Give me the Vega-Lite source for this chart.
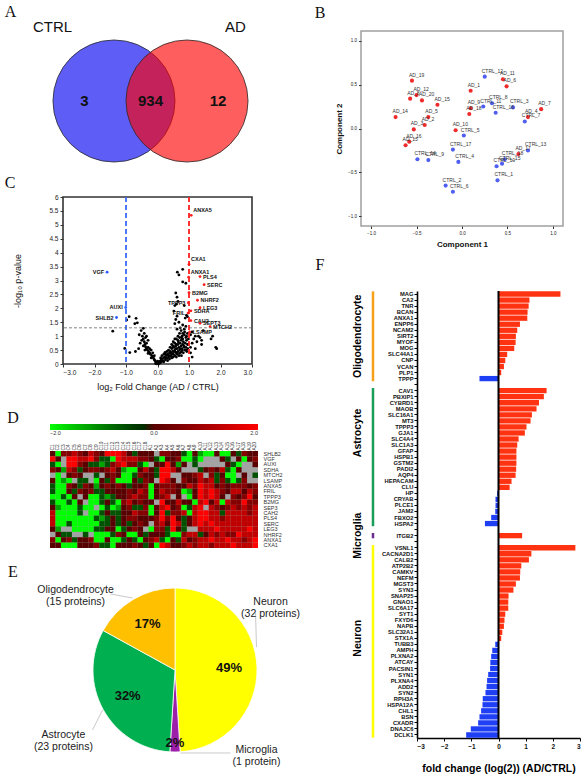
{
"$schema": "https://vega.github.io/schema/vega-lite/v6.json",
"background": "white",
"padding": 0,
"config": {
  "view": {"stroke": null},
  "font": "Liberation Sans",
  "axis": {"grid": false, "labelOverlap": false, "labelFont": "Liberation Sans", "titleFont": "Liberation Sans", "labelColor": "#222", "titleColor": "#111", "tickColor": "#333", "domainColor": "#333"}
},
"datasets": {
  "volcano": [
    {"gene":"ANXA5","lfc":1.07,"p":5.34},{"gene":"CXA1","lfc":1.0,"p":3.58},{"gene":"ANXA1","lfc":0.99,"p":3.12},
    {"gene":"PLS4","lfc":1.35,"p":3.14},{"gene":"SERC","lfc":1.48,"p":2.85},{"gene":"B2MG","lfc":1.0,"p":2.56},
    {"gene":"NHRF2","lfc":1.27,"p":2.29},{"gene":"LEG3","lfc":1.35,"p":2.02},{"gene":"TPPP3","lfc":0.98,"p":2.2},
    {"gene":"SDHA","lfc":1.06,"p":1.91},{"gene":"FRIL","lfc":0.97,"p":1.83},{"gene":"CAH2","lfc":1.06,"p":1.56},
    {"gene":"SEPT3","lfc":1.35,"p":1.46},{"gene":"MTCH2","lfc":1.67,"p":1.34},{"gene":"LSAMP","lfc":1.02,"p":1.15},
    {"gene":"VGF","lfc":-1.6,"p":3.3},{"gene":"AUXI","lfc":-1.01,"p":2.03},{"gene":"SHLB2","lfc":-1.3,"p":1.67},
    {"lfc":0.0,"p":0.02},{"lfc":0.02,"p":0.05},{"lfc":-0.02,"p":0.04},{"lfc":0.05,"p":0.08},{"lfc":-0.05,"p":0.07},
    {"lfc":0.08,"p":0.1},{"lfc":-0.08,"p":0.12},{"lfc":0.1,"p":0.05},{"lfc":-0.1,"p":0.15},{"lfc":0.12,"p":0.18},
    {"lfc":0.0,"p":0.1},{"lfc":0.03,"p":0.0},{"lfc":-0.03,"p":0.01},{"lfc":0.06,"p":0.03},{"lfc":-0.06,"p":0.02},
    {"lfc":0.15,"p":0.12},{"lfc":0.18,"p":0.2},{"lfc":-0.12,"p":0.2},{"lfc":-0.15,"p":0.25},{"lfc":0.2,"p":0.08},
    {"lfc":0.22,"p":0.25},{"lfc":0.25,"p":0.15},{"lfc":0.28,"p":0.3},{"lfc":0.3,"p":0.2},{"lfc":-0.18,"p":0.3},
    {"lfc":-0.2,"p":0.22},{"lfc":-0.22,"p":0.35},{"lfc":-0.25,"p":0.4},{"lfc":-0.28,"p":0.45},{"lfc":-0.3,"p":0.38},
    {"lfc":-0.32,"p":0.5},{"lfc":-0.35,"p":0.55},{"lfc":-0.38,"p":0.62},{"lfc":-0.4,"p":0.7},{"lfc":-0.42,"p":0.8},
    {"lfc":-0.45,"p":0.9},{"lfc":-0.4,"p":0.5},{"lfc":-0.35,"p":0.75},{"lfc":-0.3,"p":0.6},{"lfc":-0.25,"p":0.55},
    {"lfc":-0.45,"p":0.65},{"lfc":-0.5,"p":0.85},{"lfc":-0.48,"p":1.0},{"lfc":-0.42,"p":1.1},{"lfc":-0.45,"p":1.28},
    {"lfc":-0.38,"p":0.95},{"lfc":-0.55,"p":0.75},{"lfc":-0.6,"p":0.55},{"lfc":-0.7,"p":0.45},{"lfc":-0.88,"p":0.41},
    {"lfc":-1.04,"p":0.56},{"lfc":-0.9,"p":1.7},{"lfc":-0.68,"p":1.64},{"lfc":-0.64,"p":1.48},{"lfc":-0.72,"p":1.45},
    {"lfc":-1.42,"p":1.18},{"lfc":-0.58,"p":1.05},{"lfc":-0.52,"p":1.2},{"lfc":-0.35,"p":1.0},{"lfc":-0.3,"p":0.85},
    {"lfc":-0.2,"p":0.5},{"lfc":-0.15,"p":0.4},{"lfc":-0.1,"p":0.3},{"lfc":-0.98,"p":1.58},
    {"lfc":0.1,"p":0.22},{"lfc":0.14,"p":0.3},{"lfc":0.17,"p":0.1},{"lfc":0.2,"p":0.35},{"lfc":0.24,"p":0.42},
    {"lfc":0.26,"p":0.22},{"lfc":0.32,"p":0.12},{"lfc":0.35,"p":0.32},{"lfc":0.38,"p":0.18},{"lfc":0.4,"p":0.28},
    {"lfc":0.42,"p":0.4},{"lfc":0.45,"p":0.22},{"lfc":0.46,"p":0.35},{"lfc":0.5,"p":0.25},{"lfc":0.52,"p":0.45},
    {"lfc":0.55,"p":0.3},{"lfc":0.58,"p":0.42},{"lfc":0.6,"p":0.25},{"lfc":0.62,"p":0.35},{"lfc":0.65,"p":0.45},
    {"lfc":0.68,"p":0.3},{"lfc":0.7,"p":0.38},{"lfc":0.72,"p":0.55},{"lfc":0.74,"p":0.42},{"lfc":0.76,"p":0.3},
    {"lfc":0.78,"p":0.48},{"lfc":0.82,"p":0.4},{"lfc":0.84,"p":0.65},{"lfc":0.86,"p":0.5},{"lfc":0.9,"p":0.6},
    {"lfc":0.93,"p":0.45},{"lfc":0.96,"p":0.55},{"lfc":0.98,"p":0.7},{"lfc":0.92,"p":1.0},{"lfc":0.86,"p":1.15},
    {"lfc":0.76,"p":0.95},{"lfc":0.66,"p":0.8},{"lfc":0.58,"p":0.55},{"lfc":0.48,"p":0.6},
    {"lfc":0.3,"p":0.45},{"lfc":0.32,"p":0.35},{"lfc":0.35,"p":0.5},{"lfc":0.38,"p":0.4},{"lfc":0.4,"p":0.6},
    {"lfc":0.42,"p":0.3},{"lfc":0.45,"p":0.55},{"lfc":0.45,"p":0.7},{"lfc":0.48,"p":0.45},{"lfc":0.5,"p":0.8},
    {"lfc":0.5,"p":0.35},{"lfc":0.52,"p":0.6},{"lfc":0.55,"p":0.5},{"lfc":0.55,"p":0.75},{"lfc":0.58,"p":0.65},
    {"lfc":0.6,"p":0.9},{"lfc":0.6,"p":0.4},{"lfc":0.62,"p":0.55},{"lfc":0.65,"p":0.7},{"lfc":0.65,"p":0.85},
    {"lfc":0.68,"p":0.6},{"lfc":0.7,"p":0.95},{"lfc":0.7,"p":0.5},{"lfc":0.72,"p":0.75},{"lfc":0.75,"p":0.65},
    {"lfc":0.75,"p":0.85},{"lfc":0.78,"p":1.0},{"lfc":0.78,"p":0.55},{"lfc":0.8,"p":0.7},{"lfc":0.8,"p":0.9},
    {"lfc":0.82,"p":0.8},{"lfc":0.85,"p":1.05},{"lfc":0.85,"p":0.6},{"lfc":0.88,"p":0.75},{"lfc":0.9,"p":0.95},
    {"lfc":0.9,"p":0.5},{"lfc":0.92,"p":0.85},{"lfc":0.95,"p":1.1},{"lfc":0.95,"p":0.7},{"lfc":0.98,"p":0.9},
    {"lfc":0.35,"p":0.25},{"lfc":0.25,"p":0.35},{"lfc":0.4,"p":0.45},{"lfc":0.5,"p":0.65},{"lfc":0.6,"p":0.7},
    {"lfc":0.55,"p":0.9},{"lfc":0.65,"p":1.0},{"lfc":0.7,"p":1.1},{"lfc":0.75,"p":1.2},{"lfc":0.8,"p":1.1},
    {"lfc":0.72,"p":1.3},{"lfc":0.62,"p":1.25},{"lfc":0.68,"p":1.5},{"lfc":0.58,"p":1.6},{"lfc":0.55,"p":1.45},
    {"lfc":0.62,"p":1.72},{"lfc":0.52,"p":1.9},{"lfc":0.55,"p":2.1},{"lfc":0.6,"p":2.15},{"lfc":0.62,"p":2.4},
    {"lfc":0.58,"p":2.55},{"lfc":0.65,"p":2.25},{"lfc":0.63,"p":3.3},{"lfc":0.68,"p":3.2},{"lfc":0.8,"p":2.95},
    {"lfc":0.9,"p":2.9},{"lfc":0.8,"p":3.4},{"lfc":0.85,"p":2.1},{"lfc":0.92,"p":1.75},{"lfc":0.88,"p":1.65},
    {"lfc":0.95,"p":1.7},{"lfc":0.8,"p":1.4},{"lfc":0.9,"p":1.35},{"lfc":0.85,"p":1.25},
    {"lfc":1.05,"p":0.6},{"lfc":1.05,"p":0.4},{"lfc":1.1,"p":0.75},{"lfc":1.15,"p":0.9},{"lfc":1.2,"p":1.0},
    {"lfc":1.25,"p":0.8},{"lfc":1.3,"p":1.0},{"lfc":1.35,"p":0.95},{"lfc":1.4,"p":0.85},{"lfc":1.05,"p":1.05},
    {"lfc":1.1,"p":0.25},{"lfc":1.2,"p":0.55},{"lfc":1.7,"p":0.9},{"lfc":1.75,"p":1.0},{"lfc":1.85,"p":0.6},
    {"lfc":1.88,"p":0.55},{"lfc":1.4,"p":0.7},{"lfc":1.1,"p":1.15},{"lfc":1.45,"p":1.2}
  ],
  "pca": [
    {"id":"AD_19","g":"AD","c1":-0.55,"c2":0.545},{"id":"AD_8","g":"AD","c1":-0.57,"c2":0.34},
    {"id":"AD_12","g":"AD","c1":-0.5,"c2":0.38},{"id":"AD_20","g":"AD","c1":-0.44,"c2":0.32},
    {"id":"AD_15","g":"AD","c1":-0.27,"c2":0.27},{"id":"AD_14","g":"AD","c1":-0.73,"c2":0.13},
    {"id":"AD_5","g":"AD","c1":-0.37,"c2":0.13},{"id":"AD_3","g":"AD","c1":-0.53,"c2":-0.01},
    {"id":"AD_2","g":"AD","c1":-0.41,"c2":0.04},{"id":"AD_16","g":"AD","c1":-0.58,"c2":-0.15},
    {"id":"AD_13","g":"AD","c1":-0.62,"c2":-0.19},{"id":"AD_1","g":"AD","c1":0.095,"c2":0.43},
    {"id":"AD_11","g":"AD","c1":0.45,"c2":0.56},{"id":"AD_6","g":"AD","c1":0.49,"c2":0.48},
    {"id":"AD_9","g":"AD","c1":0.095,"c2":0.23},{"id":"AD_18","g":"AD","c1":0.08,"c2":0.165},
    {"id":"AD_10","g":"AD","c1":-0.07,"c2":-0.02},{"id":"AD_7","g":"AD","c1":0.87,"c2":0.22},
    {"id":"AD_4","g":"AD","c1":0.725,"c2":0.13},{"id":"AD_17","g":"AD","c1":0.62,"c2":-0.29},
    {"id":"CTRL_12","g":"CTRL","c1":0.25,"c2":0.59},{"id":"CTRL_11","g":"CTRL","c1":0.234,"c2":0.25},
    {"id":"CTRL_8","g":"CTRL","c1":0.33,"c2":0.287},{"id":"CTRL_3","g":"CTRL","c1":0.56,"c2":0.24},
    {"id":"CTRL_16","g":"CTRL","c1":0.37,"c2":0.18},{"id":"CTRL_7","g":"CTRL","c1":0.69,"c2":0.08},
    {"id":"CTRL_5","g":"CTRL","c1":0.02,"c2":-0.08},{"id":"CTRL_17","g":"CTRL","c1":-0.1,"c2":-0.24},
    {"id":"CTRL_9","g":"CTRL","c1":-0.37,"c2":-0.36},{"id":"CTRL_14","g":"CTRL","c1":-0.49,"c2":-0.35},
    {"id":"CTRL_4","g":"CTRL","c1":-0.04,"c2":-0.38},{"id":"CTRL_13","g":"CTRL","c1":0.725,"c2":-0.25},
    {"id":"CTRL_18","g":"CTRL","c1":0.47,"c2":-0.35},{"id":"CTRL_15","g":"CTRL","c1":0.44,"c2":-0.4},
    {"id":"CTRL_10","g":"CTRL","c1":0.38,"c2":-0.43},{"id":"CTRL_1","g":"CTRL","c1":0.39,"c2":-0.59},
    {"id":"CTRL_2","g":"CTRL","c1":-0.18,"c2":-0.65},{"id":"CTRL_6","g":"CTRL","c1":-0.1,"c2":-0.72}
  ],
  "heat": [
    {"gene":"SHLB2","C1":0,"C2":-2,"C3":0.6,"C4":0.6,"C5":1.3,"C6":0.6,"C7":0,"C8":1.3,"C9":0.6,"C10":0,"C11":2,"C12":2,"C13":2,"C14":1.3,"C15":0,"C16":-0.6,"C17":0,"C18":0,"A1":0,"A2":null,"A3":0.6,"A4":0.6,"A5":0,"A6":0,"A7":-0.6,"A8":-2,"A9":0,"A10":-1.3,"A11":-2,"A12":-2,"A13":0,"A14":-2,"A15":-2,"A16":0,"A17":-0.6,"A18":0.6,"A19":0,"A20":0},
    {"gene":"VGF","C1":2,"C2":0,"C3":null,"C4":2,"C5":2,"C6":1.3,"C7":1.3,"C8":2,"C9":0.6,"C10":-0.6,"C11":-0.6,"C12":-2,"C13":2,"C14":1.3,"C15":1.3,"C16":1.3,"C17":0.6,"C18":0.6,"A1":0,"A2":-0.6,"A3":-2,"A4":0,"A5":0,"A6":0.6,"A7":-2,"A8":-2,"A9":-0.6,"A10":-2,"A11":null,"A12":null,"A13":null,"A14":0,"A15":-0.6,"A16":null,"A17":0,"A18":-2,"A19":0,"A20":0.6},
    {"gene":"AUXI","C1":-0.6,"C2":-2,"C3":null,"C4":2,"C5":2,"C6":0.6,"C7":0,"C8":-0.6,"C9":-0.6,"C10":-1.3,"C11":-0.6,"C12":0.6,"C13":1.3,"C14":2,"C15":0.6,"C16":0.6,"C17":-0.6,"C18":-2,"A1":null,"A2":0,"A3":0,"A4":2,"A5":0,"A6":-1.3,"A7":0,"A8":null,"A9":-0.6,"A10":null,"A11":null,"A12":null,"A13":null,"A14":null,"A15":0,"A16":-0.6,"A17":-2,"A18":null,"A19":null,"A20":0},
    {"gene":"SDHA","C1":0.6,"C2":0,"C3":-1.3,"C4":1.3,"C5":0.6,"C6":-0.6,"C7":0,"C8":0.6,"C9":0.6,"C10":0,"C11":0.6,"C12":1.3,"C13":0,"C14":-1.3,"C15":-2,"C16":-2,"C17":0,"C18":1.3,"A1":0,"A2":-0.6,"A3":2,"A4":2,"A5":1.3,"A6":0,"A7":null,"A8":null,"A9":null,"A10":-0.6,"A11":0,"A12":0.6,"A13":0,"A14":1.3,"A15":-0.6,"A16":-2,"A17":0,"A18":null,"A19":null,"A20":null},
    {"gene":"MTCH2","C1":null,"C2":-2,"C3":null,"C4":0,"C5":0.6,"C6":0,"C7":null,"C8":null,"C9":-0.6,"C10":null,"C11":0,"C12":0.6,"C13":0,"C14":-2,"C15":-2,"C16":-0.6,"C17":0.6,"C18":0,"A1":0,"A2":-0.6,"A3":2,"A4":2,"A5":null,"A6":null,"A7":0,"A8":0,"A9":0.6,"A10":1.3,"A11":null,"A12":0.6,"A13":-0.6,"A14":0,"A15":-2,"A16":-2,"A17":null,"A18":0,"A19":null,"A20":-0.6},
    {"gene":"LSAMP","C1":0,"C2":-2,"C3":-1.3,"C4":-2,"C5":null,"C6":-0.6,"C7":-0.6,"C8":null,"C9":-2,"C10":0,"C11":-0.6,"C12":0.6,"C13":-2,"C14":-2,"C15":-2,"C16":0,"C17":-0.6,"C18":0.6,"A1":0,"A2":null,"A3":2,"A4":1.3,"A5":0,"A6":null,"A7":0.6,"A8":0,"A9":0,"A10":1.3,"A11":0.6,"A12":1.3,"A13":-0.6,"A14":0.6,"A15":-0.6,"A16":-2,"A17":-0.6,"A18":0.6,"A19":null,"A20":null},
    {"gene":"ANXA5","C1":-0.6,"C2":-2,"C3":-2,"C4":0.6,"C5":0,"C6":-0.6,"C7":0.6,"C8":0,"C9":-1.3,"C10":0,"C11":0.6,"C12":0,"C13":0.6,"C14":0,"C15":-0.6,"C16":0,"C17":0,"C18":0.6,"A1":-2,"A2":0,"A3":0.6,"A4":0.6,"A5":0.6,"A6":0,"A7":0,"A8":1.3,"A9":0.6,"A10":2,"A11":1.3,"A12":1.3,"A13":0,"A14":0.6,"A15":0,"A16":0.6,"A17":0.6,"A18":0.6,"A19":0,"A20":0.6},
    {"gene":"FRIL","C1":-0.6,"C2":-2,"C3":-2,"C4":0,"C5":-0.6,"C6":0.6,"C7":0,"C8":0.6,"C9":-0.6,"C10":-0.6,"C11":0,"C12":0,"C13":0,"C14":0,"C15":0.6,"C16":0,"C17":1.3,"C18":0.6,"A1":-2,"A2":0,"A3":1.3,"A4":0.6,"A5":0.6,"A6":0,"A7":-2,"A8":-1.3,"A9":0,"A10":2,"A11":1.3,"A12":2,"A13":1.3,"A14":0.6,"A15":0,"A16":1.3,"A17":1.3,"A18":0,"A19":1.3,"A20":0.6},
    {"gene":"TPPP3","C1":-2,"C2":-2,"C3":-0.6,"C4":-2,"C5":0,"C6":null,"C7":0,"C8":-2,"C9":-2,"C10":-0.6,"C11":-1.3,"C12":-0.6,"C13":0,"C14":0,"C15":0.6,"C16":1.3,"C17":0.6,"C18":0.6,"A1":-2,"A2":0,"A3":0.6,"A4":1.3,"A5":null,"A6":0,"A7":null,"A8":-2,"A9":0,"A10":2,"A11":1.3,"A12":2,"A13":1.3,"A14":0,"A15":null,"A16":0.6,"A17":0,"A18":0.6,"A19":2,"A20":0},
    {"gene":"B2MG","C1":-0.6,"C2":-2,"C3":-2,"C4":-0.6,"C5":-2,"C6":0,"C7":null,"C8":-2,"C9":-2,"C10":-0.6,"C11":0,"C12":-0.6,"C13":-2,"C14":0.6,"C15":1.3,"C16":0,"C17":0.6,"C18":0,"A1":0,"A2":null,"A3":2,"A4":0,"A5":0,"A6":1.3,"A7":0,"A8":0,"A9":-2,"A10":1.3,"A11":2,"A12":0,"A13":1.3,"A14":-2,"A15":1.3,"A16":0.6,"A17":0.6,"A18":2,"A19":0.6,"A20":0.6},
    {"gene":"SEP3","C1":0,"C2":-1.3,"C3":-2,"C4":-2,"C5":-2,"C6":-0.6,"C7":-2,"C8":-2,"C9":null,"C10":-2,"C11":-0.6,"C12":-2,"C13":-1.3,"C14":0,"C15":0.6,"C16":-0.6,"C17":-0.6,"C18":0.6,"A1":-2,"A2":0,"A3":1.3,"A4":2,"A5":0,"A6":0.6,"A7":-2,"A8":-0.6,"A9":1.3,"A10":2,"A11":null,"A12":1.3,"A13":0.6,"A14":0,"A15":0.6,"A16":1.3,"A17":0.6,"A18":1.3,"A19":0.6,"A20":1.3},
    {"gene":"CAH2","C1":1.3,"C2":-2,"C3":-2,"C4":-2,"C5":-2,"C6":-0.6,"C7":null,"C8":-2,"C9":-2,"C10":-0.6,"C11":0,"C12":-0.6,"C13":-0.6,"C14":0,"C15":0,"C16":1.3,"C17":0.6,"C18":0.6,"A1":-2,"A2":0,"A3":2,"A4":-0.6,"A5":0.6,"A6":0.6,"A7":1.3,"A8":-2,"A9":1.3,"A10":2,"A11":2,"A12":1.3,"A13":1.3,"A14":-0.6,"A15":1.3,"A16":1.3,"A17":1.3,"A18":1.3,"A19":0.6,"A20":1.3},
    {"gene":"PLS4","C1":1.3,"C2":-2,"C3":-2,"C4":-2,"C5":-2,"C6":-2,"C7":-2,"C8":-2,"C9":-0.6,"C10":-1.3,"C11":-0.6,"C12":0,"C13":-0.6,"C14":0,"C15":0.6,"C16":0.6,"C17":0,"C18":0,"A1":0,"A2":0.6,"A3":2,"A4":0.6,"A5":2,"A6":0,"A7":-0.6,"A8":0,"A9":1.3,"A10":2,"A11":2,"A12":1.3,"A13":1.3,"A14":0.6,"A15":1.3,"A16":1.3,"A17":1.3,"A18":1.3,"A19":1.3,"A20":1.3},
    {"gene":"SERC","C1":1.3,"C2":-2,"C3":-2,"C4":-0.6,"C5":-2,"C6":-2,"C7":-2,"C8":-2,"C9":-2,"C10":-0.6,"C11":-0.6,"C12":0,"C13":-0.6,"C14":0,"C15":-0.6,"C16":0,"C17":0.6,"C18":0,"A1":null,"A2":0.6,"A3":1.3,"A4":0,"A5":2,"A6":1.3,"A7":-0.6,"A8":0,"A9":1.3,"A10":2,"A11":1.3,"A12":2,"A13":1.3,"A14":1.3,"A15":1.3,"A16":1.3,"A17":1.3,"A18":1.3,"A19":1.3,"A20":1.3},
    {"gene":"LEG3","C1":0,"C2":-1.3,"C3":null,"C4":null,"C5":-2,"C6":-2,"C7":-2,"C8":-2,"C9":-0.6,"C10":-0.6,"C11":0,"C12":0,"C13":-2,"C14":-0.6,"C15":0,"C16":0.6,"C17":0,"C18":null,"A1":-2,"A2":0.6,"A3":0.6,"A4":-0.6,"A5":2,"A6":0,"A7":-0.6,"A8":null,"A9":null,"A10":1.3,"A11":1.3,"A12":1.3,"A13":2,"A14":1.3,"A15":1.3,"A16":1.3,"A17":1.3,"A18":1.3,"A19":2,"A20":1.3},
    {"gene":"NHRF2","C1":null,"C2":0,"C3":-0.6,"C4":-0.6,"C5":null,"C6":null,"C7":-0.6,"C8":null,"C9":-2,"C10":-2,"C11":-2,"C12":-0.6,"C13":0.6,"C14":0,"C15":-2,"C16":-2,"C17":0,"C18":-0.6,"A1":0,"A2":0,"A3":0,"A4":-0.6,"A5":-2,"A6":-2,"A7":0.6,"A8":1.3,"A9":1.3,"A10":-0.6,"A11":0,"A12":1.3,"A13":0.6,"A14":1.3,"A15":0.6,"A16":0.6,"A17":2,"A18":1.3,"A19":1.3,"A20":1.3},
    {"gene":"ANXA1","C1":0.6,"C2":-2,"C3":0,"C4":0.6,"C5":-0.6,"C6":0,"C7":0,"C8":0.6,"C9":-2,"C10":-2,"C11":0,"C12":-2,"C13":-2,"C14":-0.6,"C15":0,"C16":-0.6,"C17":-2,"C18":0,"A1":0.6,"A2":1.3,"A3":-0.6,"A4":-2,"A5":0,"A6":-0.6,"A7":1.3,"A8":0,"A9":0.6,"A10":1.3,"A11":1.3,"A12":2,"A13":1.3,"A14":1.3,"A15":2,"A16":1.3,"A17":1.3,"A18":0.6,"A19":1.3,"A20":2},
    {"gene":"CXA1","C1":0,"C2":0,"C3":-2,"C4":-2,"C5":-2,"C6":0,"C7":0,"C8":0,"C9":0.6,"C10":-0.6,"C11":-0.6,"C12":-2,"C13":0,"C14":0,"C15":0,"C16":0.6,"C17":0,"C18":-0.6,"A1":0,"A2":-2,"A3":2,"A4":1.3,"A5":0,"A6":0,"A7":0.6,"A8":1.3,"A9":0.6,"A10":1.3,"A11":1.3,"A12":0.6,"A13":1.3,"A14":1.3,"A15":1.3,"A16":2,"A17":1.3,"A18":1.3,"A19":1.3,"A20":2}
  ],
  "bars": [
    {"gene":"MAG","fc":2.28},{"gene":"CA2","fc":1.14},{"gene":"TNR","fc":1.11},{"gene":"BCAN","fc":1.07},{"gene":"ANXA1","fc":1.06},
    {"gene":"ENPP6","fc":0.79},{"gene":"NCAM2","fc":0.69},{"gene":"SIRT2","fc":0.64},{"gene":"MYOF","fc":0.63},{"gene":"MOG","fc":0.58},
    {"gene":"SLC44A1","fc":0.32},{"gene":"CNP","fc":0.25},{"gene":"VCAN","fc":0.2},{"gene":"PLP1","fc":0.1},{"gene":"TPPP","fc":-0.7},
    {"gene":"CAV1","fc":1.77},{"gene":"PBXIP1","fc":1.67},{"gene":"CYBRD1","fc":1.49},{"gene":"MAOB","fc":1.4},{"gene":"SLC16A1","fc":1.23},
    {"gene":"MT3","fc":1.18},{"gene":"TPPP3","fc":1.03},{"gene":"GJA1","fc":0.97},{"gene":"SLC4A4","fc":0.74},{"gene":"SLC1A3","fc":0.69},
    {"gene":"GFAP","fc":0.66},{"gene":"HSPB1","fc":0.66},{"gene":"GSTM2","fc":0.66},{"gene":"PADI2","fc":0.65},{"gene":"AQP4","fc":0.63},
    {"gene":"HEPACAM","fc":0.48},{"gene":"CLU","fc":0.41},{"gene":"HP","fc":-0.05},{"gene":"CRYAB","fc":-0.11},{"gene":"PLCE1","fc":-0.11},
    {"gene":"JAM2","fc":-0.12},{"gene":"FBXO2","fc":-0.27},{"gene":"HSPA2","fc":-0.5},
    {"gene":"ITGB2","fc":0.87},
    {"gene":"VSNL1","fc":2.83},{"gene":"CACNA2D1","fc":1.21},{"gene":"CALB2","fc":1.12},{"gene":"ATP2B2","fc":0.84},{"gene":"CAMKV","fc":0.8},
    {"gene":"NEFM","fc":0.79},{"gene":"MGST3","fc":0.64},{"gene":"SYN3","fc":0.55},{"gene":"SNAP25","fc":0.37},{"gene":"GNAO1","fc":0.36},
    {"gene":"SLC6A17","fc":0.36},{"gene":"SYT1","fc":0.25},{"gene":"FXYD6","fc":0.22},{"gene":"NAPB","fc":0.2},{"gene":"SLC32A1","fc":0.14},
    {"gene":"STX1A","fc":0.1},{"gene":"TUBB3","fc":-0.12},{"gene":"AMPH","fc":-0.23},{"gene":"PLXNA2","fc":-0.27},{"gene":"ATCAY","fc":-0.3},
    {"gene":"PACSIN1","fc":-0.31},{"gene":"SYN1","fc":-0.38},{"gene":"PLXNA4","fc":-0.42},{"gene":"ADD2","fc":-0.44},{"gene":"SYN2","fc":-0.48},
    {"gene":"RPH3A","fc":-0.58},{"gene":"HSPA12A","fc":-0.59},{"gene":"CHL1","fc":-0.64},{"gene":"BSN","fc":-0.7},{"gene":"CXADR","fc":-0.75},
    {"gene":"DNAJC6","fc":-1.02},{"gene":"DCLK1","fc":-1.19}
  ],
  "groups": [
    {"group":"Oligodendrocyte","first":"MAG","last":"TPPP","mid":"SIRT2"},
    {"group":"Astrocyte","first":"CAV1","last":"HSPA2","mid":"GJA1"},
    {"group":"Microglia","first":"ITGB2","last":"ITGB2","mid":"ITGB2"},
    {"group":"Neuron","first":"VSNL1","last":"DCLK1","mid":"STX1A"}
  ],
  "pie": [
    {"cell":"Neuron","proteins":32,"pct":49,"ord":1},
    {"cell":"Microglia","proteins":1,"pct":2,"ord":2},
    {"cell":"Astrocyte","proteins":23,"pct":32,"ord":3},
    {"cell":"Oligodendrocyte","proteins":15,"pct":17,"ord":4}
  ]
},
"bounds": "flush",
"spacing": 0,
"vconcat": [
  {"columns": 2, "bounds": "flush", "spacing": 0, "concat": [
    {"width": 1, "height": 1, "data": {"values": []}, "mark": "point"},
    {"width": 1, "height": 1, "data": {"values": []}, "mark": "point"},
    {"width": 1, "height": 1, "data": {"values": []}, "mark": "point"},
    {
      "width": 289, "height": 196,
      "layer": [
        {"data": {"values": [{"set":"CTRL","x":-0.5,"y":0},{"set":"AD","x":0.5,"y":0}]},
         "mark": {"type":"point","shape":"circle","filled":true,"size":14900,"fillOpacity":0.63,"stroke":"#2a2a2a","strokeWidth":0.8,"strokeOpacity":1},
         "encoding": {
           "x": {"field":"x","type":"quantitative","scale":{"domain":[-2.048,1.911],"nice":false,"zero":false},"axis":null},
           "y": {"field":"y","type":"quantitative","scale":{"domain":[-1.315,1.370],"nice":false,"zero":false},"axis":null},
           "fill": {"field":"set","type":"nominal","scale":{"domain":["CTRL","AD"],"range":["#0000f0","#ff0000"]},"legend":null}
         }},
        {"data": {"values": [{}]}, "mark": {"type":"text","text":"CTRL","fontSize":15,"align":"center","baseline":"alphabetic","color":"#111"},
         "encoding": {"x": {"datum":-1.342,"axis":null}, "y": {"datum":0.945,"axis":null}}},
        {"data": {"values": [{}]}, "mark": {"type":"text","text":"AD","fontSize":15,"align":"center","baseline":"alphabetic","color":"#111"},
         "encoding": {"x": {"datum":1.164,"axis":null}, "y": {"datum":0.945,"axis":null}}},
        {"data": {"values": [{}]}, "mark": {"type":"text","text":"3","fontSize":15,"fontWeight":"bold","align":"center","baseline":"alphabetic","color":"#111"},
         "encoding": {"x": {"datum":-0.904,"axis":null}, "y": {"datum":-0.068,"axis":null}}},
        {"data": {"values": [{}]}, "mark": {"type":"text","text":"934","fontSize":15,"fontWeight":"bold","align":"center","baseline":"alphabetic","color":"#111"},
         "encoding": {"x": {"datum":0.0,"axis":null}, "y": {"datum":-0.068,"axis":null}}},
        {"data": {"values": [{}]}, "mark": {"type":"text","text":"12","fontSize":15,"fontWeight":"bold","align":"center","baseline":"alphabetic","color":"#111"},
         "encoding": {"x": {"datum":0.925,"axis":null}, "y": {"datum":-0.068,"axis":null}}},
        {"data": {"values": [{}]}, "mark": {"type":"text","text":"A","font":"Liberation Serif","fontSize":16,"align":"center","baseline":"alphabetic","color":"#111"},
         "encoding": {"x": {"datum":-1.918,"axis":null}, "y": {"datum":1.151,"axis":null}}},
        {"data": {"values": [{}]}, "mark": {"type":"text","text":"C","font":"Liberation Serif","fontSize":16,"align":"center","baseline":"alphabetic","color":"#111"},
         "encoding": {"x": {"datum":-1.925,"axis":null}, "y": {"datum":-1.192,"axis":null}}},
        {"data": {"values": [{}]}, "mark": {"type":"text","text":"D","font":"Liberation Serif","fontSize":16,"align":"center","baseline":"alphabetic","color":"#111"},
         "encoding": {"x": {"datum":-1.884,"axis":null}, "y": {"datum":-4.411,"axis":null}}}
      ]
    }
  ]},

  {"columns": 2, "bounds": "flush", "spacing": 0, "concat": [
    {"width": 63, "height": 197, "data": {"values": []}, "mark": "point"},
    {"width": 1, "height": 1, "data": {"values": []}, "mark": "point"},
    {"width": 1, "height": 1, "data": {"values": []}, "mark": "point"},
    {
      "width": 189, "height": 167,
      "view": {"stroke": "#333333", "strokeWidth": 1.6},
      "layer": [
        {"data": {"name": "volcano"}, "mark": {"type":"circle","size":8,"opacity":1},
         "encoding": {
           "x": {"field":"lfc","type":"quantitative","scale":{"domain":[-3,3],"nice":false,"zero":false},
                 "axis":{"values":[-3,-2,-1,0,1,2,3],"tickCount":20,"format":".1f","labelOverlap":false,"title":"log₂ Fold Change (AD / CTRL)","titleFontSize":9,"titleFontWeight":"normal","labelFontSize":6.5,"tickSize":3,"domain":false,"labelPadding":2,"titlePadding":7}},
           "y": {"field":"p","type":"quantitative","scale":{"domain":[0,6],"nice":false},
                 "axis":{"values":[0,0.5,1,1.5,2,2.5,3,3.5,4,4.5,5,5.5,6],"tickCount":30,"format":".1~f","labelOverlap":false,"title":"-log₁₀ p-value","titleFontSize":9,"titleFontWeight":"normal","labelFontSize":6.5,"tickSize":3,"domain":false,"labelPadding":2,"titlePadding":26}},
           "color": {"condition":[{"test":"datum.gene && datum.lfc > 0","value":"#ff1f1f"},{"test":"datum.gene && datum.lfc < 0","value":"#2a5cff"}],"value":"#000000"}
         }},
        {"data": {"values": [{"lfc": -1}]}, "mark": {"type":"rule","strokeDash":[5,3],"strokeWidth":1.8,"color":"#3b6cf6"},
         "encoding": {"x": {"field": "lfc", "type": "quantitative"}}},
        {"data": {"values": [{"lfc": 1}]}, "mark": {"type":"rule","strokeDash":[5,3],"strokeWidth":1.8,"color":"#ff2020"},
         "encoding": {"x": {"field": "lfc", "type": "quantitative"}}},
        {"data": {"values": [{"p": 1.3}]}, "mark": {"type":"rule","strokeDash":[3,2],"strokeWidth":0.8,"color":"#666666"},
         "encoding": {"y": {"field": "p", "type": "quantitative"}}},
        {"data": {"name": "volcano"},
         "transform": [{"filter": "datum.gene && indexof(['VGF','AUXI','SHLB2','TPPP3','FRIL','ANXA5','CXA1','ANXA1'], datum.gene) < 0"}],
         "mark": {"type":"text","align":"left","baseline":"middle","dx":3,"fontSize":5.5,"fontWeight":"bold","color":"#111"},
         "encoding": {"x": {"field":"lfc","type":"quantitative"}, "y": {"field":"p","type":"quantitative"}, "text": {"field":"gene"}}},
        {"data": {"name": "volcano"},
         "transform": [{"filter": "indexof(['ANXA5','CXA1','ANXA1'], datum.gene) >= 0"}],
         "mark": {"type":"text","align":"left","baseline":"middle","dx":2,"dy":-5,"fontSize":5.5,"fontWeight":"bold","color":"#111"},
         "encoding": {"x": {"field":"lfc","type":"quantitative"}, "y": {"field":"p","type":"quantitative"}, "text": {"field":"gene"}}},
        {"data": {"name": "volcano"},
         "transform": [{"filter": "indexof(['VGF','AUXI','SHLB2','TPPP3','FRIL'], datum.gene) >= 0"}],
         "mark": {"type":"text","align":"right","baseline":"middle","dx":-3,"fontSize":5.5,"fontWeight":"bold","color":"#111"},
         "encoding": {"x": {"field":"lfc","type":"quantitative"}, "y": {"field":"p","type":"quantitative"}, "text": {"field":"gene"}}}
      ]
    }
  ]},

  {"columns": 2, "bounds": "flush", "spacing": 0, "concat": [
    {"width": 361, "height": 31, "data": {"values": []}, "mark": "point"},
    {"width": 1, "height": 1, "data": {"values": []}, "mark": "point"},
    {"width": 1, "height": 1, "data": {"values": []}, "mark": "point"},
    {
      "width": 202, "height": 195,
      "view": {"stroke": "#a0a0a0", "strokeWidth": 1.5},
      "layer": [
        {"data": {"name": "pca"}, "mark": {"type":"circle","size":17,"opacity":1},
         "encoding": {
           "x": {"field":"c1","type":"quantitative","scale":{"domain":[-1.11,1.11],"nice":false,"zero":false},
                 "axis":{"values":[-1,-0.5,0,0.5,1],"tickCount":20,"format":".1f","title":"Component 1","titleFontSize":8,"titleFontWeight":"bold","labelFontSize":4.5,"tickSize":2.5,"domain":false,"labelPadding":2,"titlePadding":5}},
           "y": {"field":"c2","type":"quantitative","scale":{"domain":[-1.11,1.11],"nice":false,"zero":false},
                 "axis":{"values":[-1,-0.5,0,0.5,1],"tickCount":20,"format":".1f","title":"Component 2","titleFontSize":8,"titleFontWeight":"bold","labelFontSize":4.5,"tickSize":2.5,"domain":false,"labelPadding":2,"titlePadding":4}},
           "color": {"field":"g","type":"nominal","scale":{"domain":["AD","CTRL"],"range":["#ee2a2a","#4f5ff0"]},"legend":null}
         }},
        {"data": {"name": "pca"}, "mark": {"type":"text","align":"left","baseline":"alphabetic","dx":-3,"dy":-4,"fontSize":5,"color":"#333"},
         "encoding": {"x": {"field":"c1","type":"quantitative"}, "y": {"field":"c2","type":"quantitative"}, "text": {"field":"id"}}},
        {"data": {"values": [{}]}, "mark": {"type":"text","text":"B","font":"Liberation Serif","fontSize":16,"align":"center","baseline":"alphabetic","color":"#111"},
         "encoding": {"x": {"datum":-1.56}, "y": {"datum":1.258}}},
        {"data": {"values": [{}]}, "mark": {"type":"text","text":"F","font":"Liberation Serif","fontSize":16,"align":"center","baseline":"alphabetic","color":"#111"},
         "encoding": {"x": {"datum":-1.56}, "y": {"datum":-1.611}}}
      ]
    }
  ]},

  {"columns": 2, "bounds": "flush", "spacing": 0, "concat": [
    {"width": 50, "height": 451, "data": {"values": []}, "mark": "point"},
    {"width": 1, "height": 1, "data": {"values": []}, "mark": "point"},
    {"width": 1, "height": 1, "data": {"values": []}, "mark": "point"},
    {
      "width": 208, "height": 97,
      "view": {"fill": "#a3a3a3", "stroke": null},
      "data": {"name": "heat"},
      "transform": [
        {"fold": ["C1","C2","C3","C4","C5","C6","C7","C8","C9","C10","C11","C12","C13","C14","C15","C16","C17","C18","A1","A2","A3","A4","A5","A6","A7","A8","A9","A10","A11","A12","A13","A14","A15","A16","A17","A18","A19","A20"], "as": ["sample","v"]},
        {"filter": "datum.v != null"}
      ],
      "mark": {"type": "rect"},
      "encoding": {
        "x": {"field":"sample","type":"nominal",
              "scale":{"domain":["C1","C2","C3","C4","C5","C6","C7","C8","C9","C10","C11","C12","C13","C14","C15","C16","C17","C18","A1","A2","A3","A4","A5","A6","A7","A8","A9","A10","A11","A12","A13","A14","A15","A16","A17","A18","A19","A20"],"paddingInner":0,"paddingOuter":0},
              "axis":{"orient":"top","labelAngle":-90,"labelFontSize":4.8,"ticks":false,"domain":false,"title":null,"labelPadding":1,"labelColor":"#333"}},
        "y": {"field":"gene","type":"nominal",
              "scale":{"domain":["SHLB2","VGF","AUXI","SDHA","MTCH2","LSAMP","ANXA5","FRIL","TPPP3","B2MG","SEP3","CAH2","PLS4","SERC","LEG3","NHRF2","ANXA1","CXA1"],"paddingInner":0,"paddingOuter":0},
              "axis":{"orient":"right","labelFontSize":5.5,"ticks":false,"domain":false,"title":null,"labelPadding":5,"labelColor":"#333"}},
        "color": {"field":"v","type":"quantitative",
                  "scale":{"domain":[-2,0,2],"range":["#00ff00","#000000","#ff0000"],"clamp":true},
                  "legend":{"orient":"none","legendX":50,"legendY":424,"direction":"horizontal","gradientLength":208,"gradientThickness":6,"title":null,"values":[-2,0,2],"format":".1f","labelFontSize":5.5,"labelOffset":1,"gradientStrokeWidth":0,"labelColor":"#333"}}
      }
    }
  ]},

  {"columns": 2, "bounds": "flush", "spacing": 0, "concat": [
    {"width": 417, "height": 291, "data": {"values": []}, "mark": "point"},
    {"width": 1, "height": 1, "data": {"values": []}, "mark": "point"},
    {"width": 1, "height": 1, "data": {"values": []}, "mark": "point"},
    {
      "width": 163, "height": 447,
      "layer": [
        {"data": {"name": "bars"}, "mark": {"type": "bar"},
         "encoding": {
           "y": {"field":"gene","type":"nominal",
                 "scale":{"domain":["MAG","CA2","TNR","BCAN","ANXA1","ENPP6","NCAM2","SIRT2","MYOF","MOG","SLC44A1","CNP","VCAN","PLP1","TPPP"," ","CAV1","PBXIP1","CYBRD1","MAOB","SLC16A1","MT3","TPPP3","GJA1","SLC4A4","SLC1A3","GFAP","HSPB1","GSTM2","PADI2","AQP4","HEPACAM","CLU","HP","CRYAB","PLCE1","JAM2","FBXO2","HSPA2","  ","ITGB2","   ","VSNL1","CACNA2D1","CALB2","ATP2B2","CAMKV","NEFM","MGST3","SYN3","SNAP25","GNAO1","SLC6A17","SYT1","FXYD6","NAPB","SLC32A1","STX1A","TUBB3","AMPH","PLXNA2","ATCAY","PACSIN1","SYN1","PLXNA4","ADD2","SYN2","RPH3A","HSPA12A","CHL1","BSN","CXADR","DNAJC6","DCLK1"],"paddingInner":0.12,"paddingOuter":0.06},
                 "axis":{"title":null,"labelFontSize":5.8,"labelFontWeight":"bold","labelColor":"#111","tickSize":3,"tickColor":"#000","domainColor":"#000","domainWidth":1.6,"labelPadding":1}},
           "x": {"field":"fc","type":"quantitative","scale":{"domain":[-3,3],"nice":false,"zero":false},
                 "axis":{"values":[-3,-2,-1,0,1,2,3],"tickCount":20,"format":"d","title":"fold change (log(2)) (AD/CTRL)","titleFontSize":10.5,"titleFontWeight":"bold","titleColor":"#000","labelFontSize":6.5,"labelFontWeight":"bold","labelColor":"#111","tickSize":3,"tickColor":"#000","domainColor":"#000","domainWidth":1.6,"titlePadding":14}},
           "color": {"condition":{"test":"datum.fc > 0","value":"#ff3311"},"value":"#1f3ff5"}
         }},
        {"data": {"values": [{}]}, "mark": {"type":"rule","color":"#000000","strokeWidth":2},
         "encoding": {"x": {"datum": 0}}},
        {"data": {"name": "groups"}, "mark": {"type":"rule","strokeWidth":2.5},
         "encoding": {
           "x": {"datum": -4.62},
           "y": {"field":"first","type":"nominal","bandPosition":0,"title":null},
           "y2": {"field":"last","bandPosition":1},
           "color": {"field":"group","type":"nominal","scale":{"domain":["Oligodendrocyte","Astrocyte","Microglia","Neuron"],"range":["#f7a11a","#1b9e5a","#6b2d90","#ffff00"]},"legend":null}
         }},
        {"data": {"name": "groups"}, "mark": {"type":"text","angle":270,"fontSize":10.5,"fontWeight":"bold","color":"#000","align":"center","baseline":"middle"},
         "encoding": {
           "x": {"datum": -5.17},
           "y": {"field":"mid","type":"nominal","title":null},
           "text": {"field":"group"}
         }}
      ]
    }
  ]},

  {"columns": 2, "bounds": "flush", "spacing": 0, "concat": [
    {"width": 93, "height": 588, "data": {"values": []}, "mark": "point"},
    {"width": 1, "height": 1, "data": {"values": []}, "mark": "point"},
    {"width": 1, "height": 1, "data": {"values": []}, "mark": "point"},
    {
      "width": 164, "height": 164,
      "layer": [
        {"data": {"values": [{}]}, "mark": {"type":"point","shape":"circle","filled":false,"size":21642,"stroke":"#cfcfcf","strokeWidth":1.5},
         "encoding": {"x": {"datum":0,"scale":{"domain":[-1,1],"nice":false,"zero":false},"axis":null}, "y": {"datum":0,"scale":{"domain":[-1,1],"nice":false,"zero":false},"axis":null}}},
        {"data": {"name": "pie"}, "mark": {"type":"arc","stroke":"#ffffff","strokeWidth":0.8},
         "encoding": {
           "theta": {"field":"pct","type":"quantitative","stack":true},
           "color": {"field":"cell","type":"nominal","scale":{"domain":["Neuron","Microglia","Astrocyte","Oligodendrocyte"],"range":["#ffff00","#9b1fa8","#00b050","#ffc000"]},"legend":null},
           "order": {"field":"ord","type":"quantitative"}
         }},
        {"data": {"name": "pie"}, "transform": [{"calculate":"datum.pct + '%'","as":"lab"}],
         "mark": {"type":"text","fontSize":13,"fontWeight":"bold","color":"#111","align":"center","baseline":"middle"},
         "encoding": {
           "theta": {"field":"pct","type":"quantitative","stack":true},
           "radius": {"value": 54},
           "order": {"field":"ord","type":"quantitative"},
           "text": {"condition":{"test":"datum.pct < 5","value":""},"field":"lab","type":"nominal"}
         }},
        {"data": {"name": "pie"}, "transform": [{"calculate":"datum.pct + '%'","as":"lab"}],
         "mark": {"type":"text","fontSize":13,"fontWeight":"bold","color":"#111","align":"center","baseline":"middle"},
         "encoding": {
           "theta": {"field":"pct","type":"quantitative","stack":true},
           "radius": {"value": 73},
           "order": {"field":"ord","type":"quantitative"},
           "text": {"condition":{"test":"datum.pct >= 5","value":""},"field":"lab","type":"nominal"}
         }},
        {"data": {"values": [{}]}, "mark": {"type":"rule","color":"#bbbbbb","strokeWidth":0.8},
         "encoding": {"x": {"datum":-0.787,"axis":null}, "y": {"datum":0.927,"axis":null}, "x2": {"datum":-0.518}, "y2": {"datum":0.878}}},
        {"data": {"values": [{}]}, "mark": {"type":"rule","color":"#bbbbbb","strokeWidth":0.8},
         "encoding": {"x": {"datum":-1.006,"axis":null}, "y": {"datum":-0.732,"axis":null}, "x2": {"datum":-0.884}, "y2": {"datum":-0.488}}},
        {"data": {"values": [{}]}, "mark": {"type":"rule","color":"#bbbbbb","strokeWidth":0.8},
         "encoding": {"x": {"datum":0.982,"axis":null}, "y": {"datum":0.695,"axis":null}, "x2": {"datum":0.994}, "y2": {"datum":0.28}}},
        {"data": {"values": [{}]}, "mark": {"type":"rule","color":"#bbbbbb","strokeWidth":0.8},
         "encoding": {"x": {"datum":0.677,"axis":null}, "y": {"datum":-1.012,"axis":null}, "x2": {"datum":0.067}, "y2": {"datum":-1.012}}},
        {"data": {"values": [{}]}, "mark": {"type":"text","text":["Oligodendrocyte","(15 proteins)"],"fontSize":10.5,"lineHeight":12,"align":"center","baseline":"middle","color":"#222"},
         "encoding": {"x": {"datum":-1.213,"axis":null}, "y": {"datum":0.976,"axis":null}}},
        {"data": {"values": [{}]}, "mark": {"type":"text","text":["Neuron","(32 proteins)"],"fontSize":10.5,"lineHeight":12,"align":"center","baseline":"middle","color":"#222"},
         "encoding": {"x": {"datum":1.165,"axis":null}, "y": {"datum":0.829,"axis":null}}},
        {"data": {"values": [{}]}, "mark": {"type":"text","text":["Astrocyte","(23 proteins)"],"fontSize":10.5,"lineHeight":12,"align":"center","baseline":"middle","color":"#222"},
         "encoding": {"x": {"datum":-1.36,"axis":null}, "y": {"datum":-0.793,"axis":null}}},
        {"data": {"values": [{}]}, "mark": {"type":"text","text":["Microglia","(1 protein)"],"fontSize":10.5,"lineHeight":12,"align":"center","baseline":"middle","color":"#222"},
         "encoding": {"x": {"datum":0.994,"axis":null}, "y": {"datum":-0.976,"axis":null}}},
        {"data": {"values": [{}]}, "mark": {"type":"text","text":"E","font":"Liberation Serif","fontSize":16,"align":"center","baseline":"alphabetic","color":"#111"},
         "encoding": {"x": {"datum":-1.976,"axis":null}, "y": {"datum":1.134,"axis":null}}}
      ]
    }
  ]}
]
}
